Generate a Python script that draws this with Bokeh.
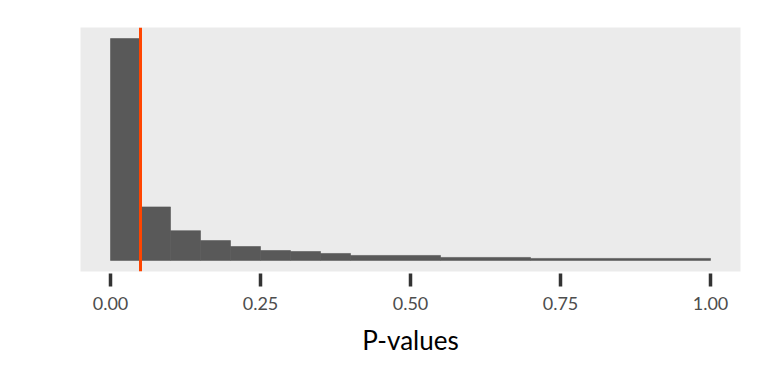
from bokeh.plotting import figure
from bokeh.models import Range1d, Span, FixedTicker
from bokeh.embed import file_html
from bokeh.resources import INLINE

# histogram bins (P-values) and heights (relative density)
bin_left = [0.00, 0.05, 0.10, 0.15, 0.20, 0.25, 0.30, 0.35, 0.40, 0.55, 0.70]
bin_right = [0.05, 0.10, 0.15, 0.20, 0.25, 0.30, 0.35, 0.40, 0.55, 0.70, 1.00]
heights = [224, 54, 30, 20, 14, 10, 9, 7, 5, 3, 2]
threshold = 0.05
x_ticks = [0.0, 0.25, 0.5, 0.75, 1.0]
x_tick_labels = {0.0: "0.00", 0.25: "0.25", 0.5: "0.50", 0.75: "0.75", 1.0: "1.00"}

ymax = max(heights)
p = figure(width=768, height=384, output_backend="svg", toolbar_location=None,
           x_range=Range1d(-0.05, 1.05), y_range=Range1d(-0.05 * ymax, 1.05 * ymax),
           min_border_left=80, min_border_right=28, min_border_top=27, min_border_bottom=113)
p.border_fill_color = "white"
p.outline_line_color = None
p.xgrid.visible = False
p.ygrid.visible = False
p.yaxis.visible = False
p.background_fill_color = "#EBEBEB"

p.quad(left=bin_left, right=bin_right, top=heights, bottom=0,
       fill_color="#595959", line_color="#595959", line_width=0.6)

p.add_layout(Span(location=threshold, dimension="height", line_color="#FF4500", line_width=3))

ax = p.xaxis[0]
ax.ticker = FixedTicker(ticks=x_ticks)
ax.major_label_overrides = x_tick_labels
ax.axis_line_color = None
ax.minor_tick_line_color = None
ax.major_tick_line_color = "#333333"
ax.major_tick_line_width = 3.5
ax.major_tick_in = -2
ax.major_tick_out = 15
ax.major_label_text_font = "Lato"
ax.major_label_text_font_size = "18px"
ax.major_label_text_color = "#4D4D4D"
ax.major_label_standoff = 10
ax.axis_label = "P-values"
ax.axis_label_text_font = "Lato"
ax.axis_label_text_font_size = "26px"
ax.axis_label_text_font_style = "normal"
ax.axis_label_text_color = "black"
ax.axis_label_standoff = 11

open("out.html", "w").write(file_html(p, INLINE))
